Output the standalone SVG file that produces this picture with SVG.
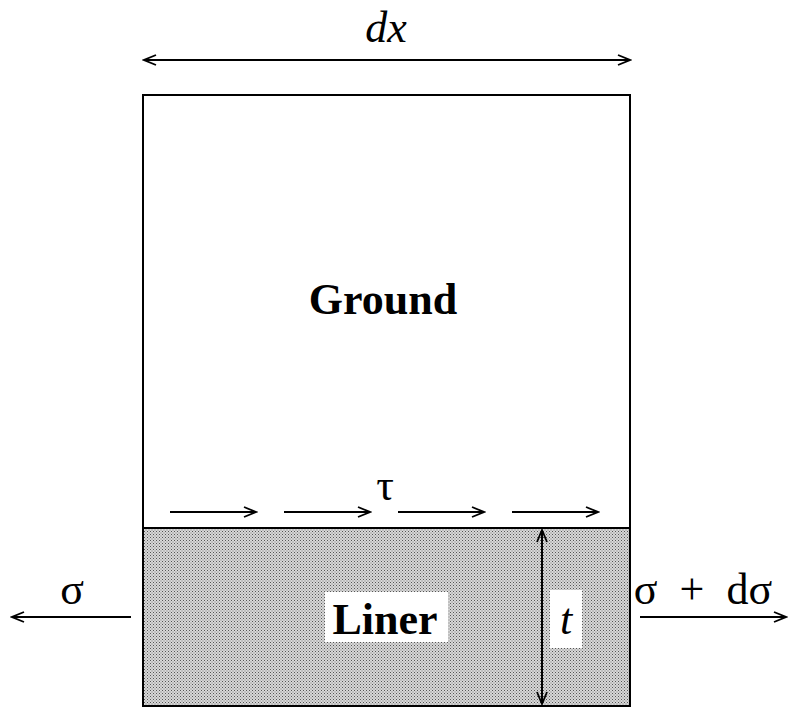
<svg xmlns="http://www.w3.org/2000/svg" width="800" height="722" viewBox="0 0 800 722">
<style>
.ln{stroke:#000;stroke-width:2;fill:none}
.tx{font-family:"Liberation Serif",serif;fill:#000;font-size:44px}
</style>
<defs>
<marker id="ah" markerWidth="16" markerHeight="12" refX="14" refY="6" orient="auto-start-reverse" markerUnits="userSpaceOnUse">
<path d="M2,1 L14,6 L2,11" fill="none" stroke="#000" stroke-width="1.8"/>
</marker>
<pattern id="dots" width="3" height="3" patternUnits="userSpaceOnUse">
<rect width="3" height="3" fill="#d8d8d8"/>
<rect x="0" y="0" width="1" height="1" fill="#555"/>
<rect x="1.5" y="1.5" width="1" height="1" fill="#777"/>
</pattern>
</defs>
<rect width="800" height="722" fill="#fff"/>
<g id="ground">
<rect x="143" y="95" width="487" height="433" fill="#fff" stroke="#000" stroke-width="2"/>
<text class="tx" x="383" y="314" font-weight="bold" text-anchor="middle">Ground</text>
</g>
<g id="liner">
<rect x="143" y="528" width="487" height="178" fill="url(#dots)" stroke="#000" stroke-width="2"/>
<rect x="325" y="592" width="123" height="50" fill="#fff"/>
<text class="tx" x="385" y="634" font-weight="bold" text-anchor="middle">Liner</text>
<rect x="550" y="590" width="32" height="58" fill="#fff"/>
<text class="tx" x="566" y="634" font-style="italic" text-anchor="middle">t</text>
</g>
<g id="connectors">
<line class="ln" x1="144" y1="60" x2="630" y2="60" marker-start="url(#ah)" marker-end="url(#ah)"/>
<line class="ln" x1="170" y1="512" x2="256" y2="512" marker-end="url(#ah)"/>
<line class="ln" x1="284" y1="512" x2="370" y2="512" marker-end="url(#ah)"/>
<line class="ln" x1="398" y1="512" x2="484" y2="512" marker-end="url(#ah)"/>
<line class="ln" x1="512" y1="512" x2="598" y2="512" marker-end="url(#ah)"/>
<line class="ln" x1="542" y1="530" x2="542" y2="704" marker-start="url(#ah)" marker-end="url(#ah)"/>
<line class="ln" x1="131" y1="617" x2="12" y2="617" marker-end="url(#ah)"/>
<line class="ln" x1="640" y1="617" x2="786" y2="617" marker-end="url(#ah)"/>
</g>
<g id="labels">
<text class="tx" x="386" y="42" font-style="italic" text-anchor="middle">dx</text>
<text class="tx" x="385" y="500" text-anchor="middle">τ</text>
<text class="tx" x="72" y="604" text-anchor="middle">σ</text>
<text class="tx" x="703" y="604" text-anchor="middle" xml:space="preserve">σ  +  dσ</text>
</g>
</svg>
